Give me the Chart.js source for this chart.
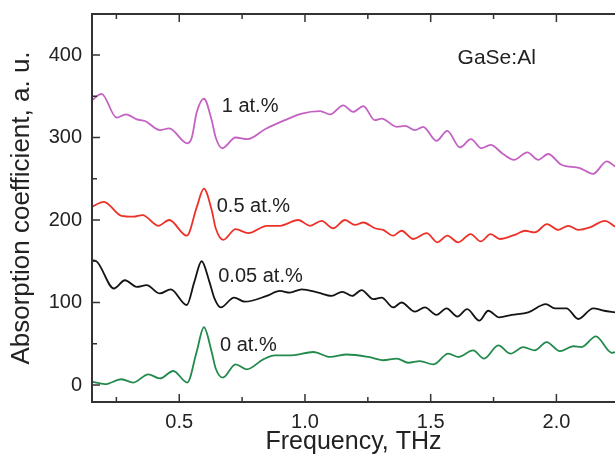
<!DOCTYPE html>
<html>
<head>
<meta charset="utf-8">
<script src="https://cdn.jsdelivr.net/npm/chart.js@4"></script>
<style>
  body { margin: 0; background: #fff; }
  canvas { display: block; }
</style>
</head>
<body>
<canvas id="myChart" width="615" height="461"></canvas>
<script>
'use strict';

// 1 at.% (purple)
const freq1 = [0.153, 0.191, 0.251, 0.288, 0.331, 0.364, 0.423, 0.46, 0.532, 0.55, 0.569, 0.598, 0.629, 0.645, 0.671, 0.724, 0.772, 0.841, 0.92, 0.987, 1.06, 1.1, 1.152, 1.192, 1.232, 1.278, 1.305, 1.365, 1.398, 1.437, 1.47, 1.523, 1.566, 1.616, 1.66, 1.702, 1.738, 1.788, 1.831, 1.884, 1.928, 1.967, 2.02, 2.093, 2.146, 2.2, 2.233];
const abs1 = [345, 353, 324, 328, 322, 320, 309, 311, 293, 300, 330, 347, 321, 300, 287, 300, 298, 310, 321, 329, 332, 328, 339, 331, 338, 321, 323, 313, 314, 309, 313, 296, 308, 288, 298, 287, 291, 280, 273, 282, 273, 280, 267, 263, 256, 271, 265];

// 0.5 at.% (red)
const freq05 = [0.153, 0.2, 0.27, 0.317, 0.354, 0.417, 0.46, 0.53, 0.569, 0.598, 0.629, 0.645, 0.675, 0.724, 0.774, 0.848, 0.9, 0.973, 1.02, 1.066, 1.112, 1.159, 1.199, 1.232, 1.278, 1.311, 1.351, 1.384, 1.431, 1.484, 1.527, 1.566, 1.609, 1.659, 1.699, 1.738, 1.775, 1.842, 1.875, 1.914, 1.963, 2.007, 2.047, 2.087, 2.133, 2.193, 2.233];
const abs05 = [216, 222, 205, 204, 206, 193, 200, 181, 215, 238, 212, 190, 176, 189, 184, 193, 193, 200, 193, 199, 190, 200, 194, 197, 190, 188, 181, 187, 177, 184, 173, 181, 173, 183, 174, 183, 177, 183, 187, 185, 195, 188, 193, 188, 191, 199, 192];

// 0.05 at.% (black)
const freq005 = [0.153, 0.17, 0.24, 0.284, 0.331, 0.37, 0.423, 0.466, 0.53, 0.56, 0.589, 0.62, 0.64, 0.665, 0.718, 0.761, 0.848, 0.9, 0.94, 0.987, 1.053, 1.106, 1.148, 1.188, 1.225, 1.272, 1.305, 1.351, 1.384, 1.437, 1.477, 1.523, 1.563, 1.606, 1.645, 1.693, 1.729, 1.773, 1.822, 1.888, 1.958, 1.994, 2.04, 2.087, 2.146, 2.19, 2.233];
const abs005 = [151, 150, 117, 127, 119, 121, 111, 116, 97, 125, 150, 125, 105, 94, 106, 101, 108, 114, 112, 116, 112, 108, 113, 108, 115, 104, 106, 94, 100, 89, 94, 85, 93, 83, 92, 78, 90, 82, 85, 88, 98, 93, 93, 80, 93, 90, 88];

// 0 at.% (green)
const freq0 = [0.153, 0.205, 0.27, 0.317, 0.377, 0.423, 0.476, 0.532, 0.569, 0.598, 0.629, 0.645, 0.673, 0.724, 0.768, 0.834, 0.88, 0.947, 1.033, 1.1, 1.166, 1.252, 1.311, 1.365, 1.411, 1.457, 1.51, 1.57, 1.609, 1.669, 1.712, 1.769, 1.818, 1.868, 1.914, 1.961, 2.014, 2.067, 2.1, 2.157, 2.22, 2.233];
const abs0 = [4, 1, 7, 3, 13, 8, 17, 3, 40, 70, 40, 20, 9, 25, 19, 31, 36, 36, 40, 34, 37, 34, 30, 32, 27, 29, 25, 38, 34, 42, 32, 48, 38, 46, 42, 52, 41, 47, 46, 59, 39, 40];

// tick values
const xMajor = [0.5, 1.0, 1.5, 2.0];
const xMinor = [0.25, 0.75, 1.25, 1.75];
const yMajor = [0, 100, 200, 300, 400];
const yMinor = [50, 150, 250, 350];

// curve labels
const labelText = ['1 at.%', '0.5 at.%', '0.05 at.%', '0 at.%', 'GaSe:Al'];
const labelX = [0.669, 0.649, 0.655, 0.662, 1.607];
const labelY = [331, 210, 125, 41, 389];

const FONT = '"Liberation Sans", Arial, Helvetica, sans-serif';

function pts(fx, fy) {
    return fx.map((f, i) => ({ x: f, y: fy[i] }));
}

function line(data, color) {
    return {
        data: data,
        borderColor: color,
        borderWidth: 1.8,
        pointRadius: 0,
        fill: false,
        cubicInterpolationMode: 'monotone'
    };
}

const frame = {
    id: 'frame',
    afterDraw(chart) {
        const ctx = chart.ctx;
        const a = chart.chartArea;
        const x = chart.scales.x;
        const y = chart.scales.y;
        ctx.save();
        ctx.strokeStyle = '#333';
        ctx.lineWidth = 2;
        ctx.beginPath();
        ctx.moveTo(a.right + 2, a.top);
        ctx.lineTo(a.left, a.top);
        ctx.lineTo(a.left, a.bottom);
        ctx.lineTo(a.right + 2, a.bottom);
        ctx.stroke();

        ctx.lineWidth = 1.5;
        ctx.beginPath();
        const tx = (v, len) => {
            const p = x.getPixelForValue(v);
            ctx.moveTo(p, a.bottom); ctx.lineTo(p, a.bottom - len);
            ctx.moveTo(p, a.top); ctx.lineTo(p, a.top + len);
        };
        const ty = (v, len) => {
            const p = y.getPixelForValue(v);
            ctx.moveTo(a.left, p); ctx.lineTo(a.left + len, p);
        };
        xMajor.forEach(v => tx(v, 8));
        xMinor.forEach(v => tx(v, 5));
        yMajor.forEach(v => ty(v, 8));
        yMinor.forEach(v => ty(v, 5));
        ctx.stroke();

        ctx.fillStyle = '#222';
        ctx.textBaseline = 'alphabetic';
        ctx.textAlign = 'left';
        labelText.forEach((t, i) => {
            ctx.font = (i === 4 ? '21px ' : '20px ') + FONT;
            ctx.fillText(t, x.getPixelForValue(labelX[i]), y.getPixelForValue(labelY[i]));
        });
        ctx.restore();
    }
};

const ctx = document.getElementById('myChart');

new Chart(ctx, {
    type: 'line',
    data: {
        datasets: [
            line(pts(freq1, abs1), '#c462c4'),
            line(pts(freq05, abs05), '#ec3228'),
            line(pts(freq005, abs005), '#141414'),
            line(pts(freq0, abs0), '#228a4c')
        ]
    },
    options: {
        responsive: false,
        animation: false,
        layout: { autoPadding: false, padding: { top: 14, left: 0, right: 0, bottom: 0 } },
        plugins: {
            legend: { display: false },
            tooltip: { enabled: false }
        },
        scales: {
            x: {
                type: 'linear',
                min: 0.153,
                max: 2.233,
                afterFit(s) { s.height = 59; s.paddingLeft = 0; s.paddingRight = 0; },
                afterBuildTicks(s) { s.ticks = xMajor.map(v => ({ value: v })); },
                grid: { display: false, drawTicks: false },
                border: { display: false },
                ticks: {
                    padding: 8,
                    color: '#222',
                    font: { family: FONT, size: 20 },
                    callback: v => Number(v).toFixed(1)
                },
                title: {
                    display: true,
                    text: 'Frequency, THz',
                    color: '#222',
                    font: { family: FONT, size: 25 },
                    padding: { top: 0, bottom: 4 }
                }
            },
            y: {
                min: -20.6,
                max: 449.7,
                afterFit(s) { s.width = 92; s.paddingTop = 0; s.paddingBottom = 0; },
                afterBuildTicks(s) { s.ticks = yMajor.map(v => ({ value: v })); },
                grid: { display: false, drawTicks: false },
                border: { display: false },
                ticks: {
                    padding: 10,
                    color: '#222',
                    font: { family: FONT, size: 20 },
                    callback: v => String(v)
                },
                title: {
                    display: true,
                    text: 'Absorption coefficient, a. u.',
                    color: '#222',
                    font: { family: FONT, size: 26 },
                    padding: { top: 6, bottom: 0 }
                }
            }
        }
    },
    plugins: [frame]
});
</script>
</body>
</html>
